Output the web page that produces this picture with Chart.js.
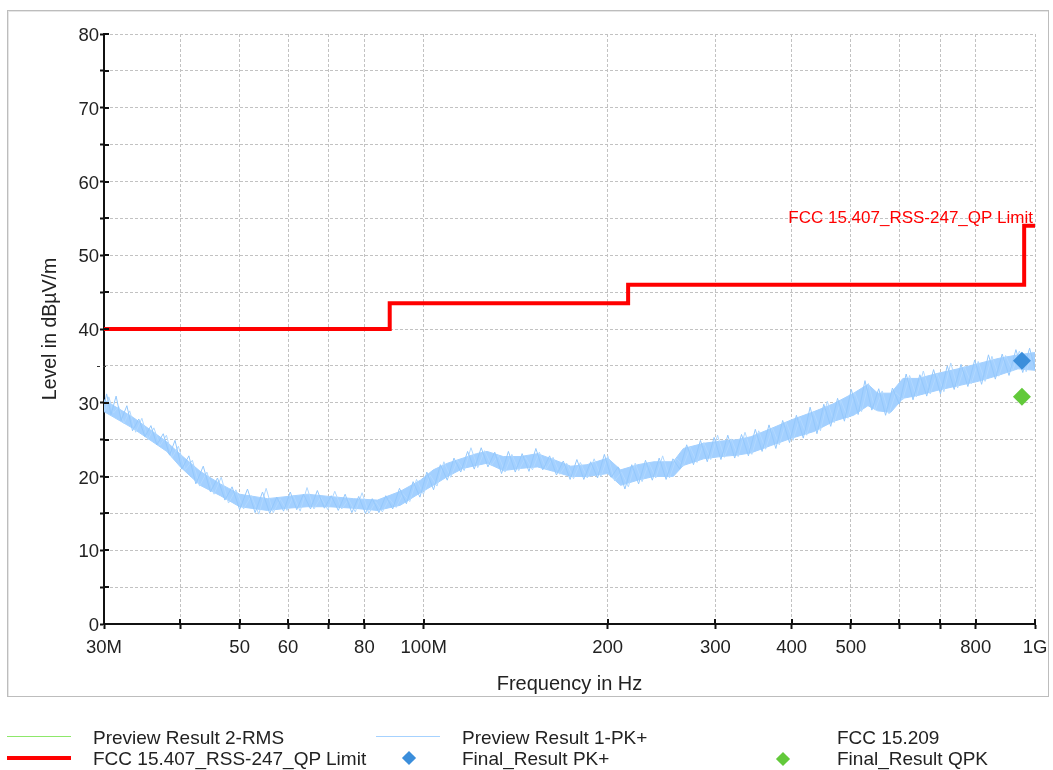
<!DOCTYPE html>
<html>
<head>
<meta charset="utf-8">
<script src="https://cdn.jsdelivr.net/npm/chart.js@4"></script>
<style>
	html, body { margin: 0; padding: 0; background: #fff; }
	#wrap { position: relative; width: 1053px; height: 770px; overflow: hidden; font-family: "Liberation Sans", Arial, sans-serif; color: #222; }
	#frame { position: absolute; left: 7px; top: 10px; width: 1040px; height: 685px; border: 1px solid #bdbdbd; box-shadow: inset 1px 1px 0 #e6e6e6; }
	canvas { position: absolute; left: 0; top: 0; }
	.lg { position: absolute; font-size: 19px; line-height: 21px; white-space: nowrap; }
	.ln { position: absolute; }
	.dm { position: absolute; width: 10px; height: 10px; transform: rotate(45deg); }
</style>
</head>
<body>
<div id="wrap">
	<div id="frame"></div>
	<canvas id="chart" width="1053" height="770"></canvas>

	<div class="ln" style="left:7px;top:736px;width:64px;height:1px;background:#8de86a"></div>
	<div class="lg" style="left:93px;top:727px">Preview Result 2-RMS</div>
	<div class="ln" style="left:7px;top:756px;width:64px;height:4px;background:#ff0000"></div>
	<div class="lg" style="left:93px;top:748px">FCC 15.407_RSS-247_QP Limit</div>

	<div class="ln" style="left:376px;top:736px;width:64px;height:1px;background:#a6d2ff"></div>
	<div class="lg" style="left:462px;top:727px">Preview Result 1-PK+</div>
	<div class="dm" style="left:404px;top:753px;background:#3b8edb"></div>
	<div class="lg" style="left:462px;top:748px">Final_Result PK+</div>

	<div class="lg" style="left:837px;top:727px">FCC 15.209</div>
	<div class="dm" style="left:778px;top:754px;background:#62c93a"></div>
	<div class="lg" style="left:837px;top:748px">Final_Result QPK</div>
</div>
<script>
// axis ticks (MHz)
const xTickValues = [30, 40, 50, 60, 70, 80, 100, 200, 300, 400, 500, 600, 700, 800, 1000];
const xTickLabels = ['30M', '', '50', '60', '', '80', '100M', '200', '300', '400', '500', '', '', '800', '1G'];

// FCC 15.407 / RSS-247 QP limit
const limitFreq = [30, 88, 88, 216, 216, 960, 960, 1000];
const limitLevel = [40, 40, 43.5, 43.5, 46, 46, 54, 54];

// Preview Result 1-PK+ : body of the noisy trace (lower / upper edge)
const bandFreq = [30, 33.5, 38, 40, 43.1, 46.5, 50, 55.5, 60, 64.5, 70, 76.7, 84, 91.6, 98.8, 103.7, 109.4, 116, 122, 127,
	135, 144, 153.5, 163, 174, 185, 200, 210, 224, 238, 256, 266, 287, 306, 326, 343, 370, 400, 435, 469,
	505, 533, 553, 581, 608, 644, 694, 748, 807, 870, 938, 1000];
const bandHi = [30.4, 28.0, 24.7, 23.0, 20.7, 19.0, 17.6, 17.0, 17.3, 17.6, 17.3, 17.0, 16.8, 18.0, 19.5, 20.9, 21.8, 22.5, 23.1, 23.4,
	22.7, 22.7, 23.1, 22.3, 21.4, 21.6, 22.5, 20.9, 21.6, 22.0, 22.0, 23.8, 24.5, 24.8, 25.0, 25.4, 26.5, 27.7, 28.8, 29.9,
	31.3, 32.5, 31.3, 31.3, 33.3, 33.3, 34.0, 34.6, 35.3, 36.0, 36.5, 36.8];
const bandLo = [28.8, 26.5, 23.4, 21.3, 18.8, 17.4, 15.9, 15.4, 15.7, 15.9, 15.9, 15.7, 15.4, 16.1, 17.8, 18.8, 20.0, 21.1, 21.5, 21.8,
	20.8, 21.1, 21.3, 20.7, 20.0, 20.0, 20.4, 18.8, 19.5, 20.0, 20.0, 21.5, 22.4, 22.7, 22.9, 23.2, 24.2, 25.2, 26.1, 27.5,
	28.3, 29.6, 28.9, 28.7, 30.6, 31.0, 31.7, 32.3, 32.9, 33.7, 34.6, 34.4];

// Preview Result 1-PK+ : peaks and dips of the trace
const spikeFreq = [30, 30.3, 30.8, 31.4, 32.0, 32.7, 33.4, 34.2, 35.0, 35.8, 36.6, 37.5, 38.4, 39.2, 40.2, 41.3, 42.4, 43.6, 44.8, 46.0,
	47.3, 48.6, 50.0, 51.5, 53.0, 54.5, 56.0, 57.5, 59.0, 60.5, 62.0, 63.6, 65.3, 67.0, 68.8, 70.6, 72.5, 74.4, 76.3, 78.3,
	80.3, 82.4, 84.5, 86.7, 89.0, 91.3, 93.7, 96.1, 98.6, 101.2, 103.8, 106.5, 109.3, 112.1, 115.0, 118.0, 121.0, 124.2, 127.4, 130.7,
	134.1, 137.6, 141.2, 144.9, 148.7, 152.6, 156.6, 160.7, 164.9, 169.2, 173.6, 178.1, 182.8, 187.6, 192.5, 197.5, 202.7, 208.0, 213.4, 219.0,
	224.7, 230.6, 236.6, 242.8, 249.2, 255.7, 262.4, 269.3, 276.3, 283.6, 291.0, 298.6, 306.4, 314.4, 322.7, 331.1, 339.8, 348.7, 357.8, 367.2,
	376.8, 386.6, 396.7, 407.1, 417.8, 428.7, 439.9, 451.4, 463.3, 475.4, 487.8, 500.6, 513.7, 527.1, 540.9, 555.1, 569.6, 584.5, 599.8, 615.5,
	631.6, 648.1, 665.1, 682.5, 700.4, 718.7, 737.5, 756.8, 776.6, 796.9, 817.8, 839.2, 861.2, 883.7, 906.8, 930.6, 954.9, 979.9, 1000];
const spikeLevel = [29.6, 31.2, 28.4, 30.9, 27.6, 29.6, 26.2, 27.8, 25.4, 26.9, 24.3, 25.8, 22.9, 24.9, 21.0, 22.8, 19.0, 21.4, 17.9, 19.8,
	16.8, 18.6, 15.5, 18.3, 15.1, 17.9, 15.0, 17.2, 15.3, 17.9, 15.5, 17.6, 15.6, 18.1, 15.7, 17.4, 15.4, 17.6, 15.1, 17.3,
	15.0, 17.0, 15.1, 17.4, 15.6, 18.4, 16.3, 19.3, 17.2, 20.6, 18.2, 21.6, 19.5, 22.5, 20.6, 23.4, 21.0, 23.9, 21.3, 23.3,
	20.4, 23.4, 20.6, 23.1, 20.7, 23.8, 20.9, 22.8, 20.2, 22.1, 19.6, 22.3, 19.6, 22.0, 19.8, 23.0, 19.9, 21.3, 18.3, 21.6,
	19.0, 22.2, 19.5, 22.5, 19.6, 22.4, 21.0, 24.3, 21.6, 24.9, 22.0, 25.3, 22.3, 25.6, 22.5, 25.7, 22.8, 26.4, 23.4, 27.0,
	23.8, 27.6, 24.6, 28.3, 25.2, 29.4, 25.8, 29.8, 26.8, 30.6, 27.5, 31.8, 28.4, 33.0, 29.0, 31.9, 28.3, 32.0, 29.8, 33.9,
	30.4, 33.8, 30.9, 34.5, 31.2, 35.0, 31.8, 35.2, 32.2, 35.8, 32.5, 36.5, 33.2, 36.6, 33.7, 37.2, 34.1, 37.4, 34.6];

// Preview Result 1-PK+ : more peaks and dips, between the ones above
const spike2Freq = [30.15, 30.55, 31.1, 31.7, 32.35, 33.05, 33.8, 34.6, 35.4, 36.2,
	37.05, 37.95, 38.8, 39.7, 40.75, 41.85, 43.0, 44.2, 45.4, 46.65,
	47.95, 49.3, 50.75, 52.25, 53.75, 55.25, 56.75, 58.25, 59.75, 61.25,
	62.8, 64.45, 66.15, 67.9, 69.7, 71.55, 73.45, 75.35, 77.3, 79.3,
	81.35, 83.45, 85.6, 87.85, 90.15, 92.5, 94.9, 97.35, 99.9, 102.5,
	105.15, 107.9, 110.7, 113.55, 116.5, 119.5, 122.6, 125.8, 129.05, 132.4,
	135.85, 139.4, 143.05, 146.8, 150.65, 154.6, 158.65, 162.8, 167.05, 171.4,
	175.85, 180.45, 185.2, 190.05, 195.0, 200.1, 205.35, 210.7, 216.2, 221.85,
	227.65, 233.6, 239.7, 246.0, 252.45, 259.05, 265.85, 272.8, 279.95, 287.3,
	294.8, 302.5, 310.4, 318.55, 326.9, 335.45, 344.25, 353.25, 362.5, 372.0,
	381.7, 391.65, 401.9, 412.45, 423.25, 434.3, 445.65, 457.35, 469.35, 481.6,
	494.2, 507.15, 520.4, 534.0, 548.0, 562.35, 577.05, 592.15, 607.65, 623.55,
	639.85, 656.6, 673.8, 691.45, 709.55, 728.1, 747.15, 766.7, 786.75, 807.35,
	828.5, 850.2, 872.45, 895.25, 918.7, 942.75, 967.4, 990];
const spike2Level = [28.9, 30.8, 28.6, 29.5, 27.2, 28.9, 26.0, 27.9, 25.0, 26.6,
	24.2, 25.6, 22.6, 24.1, 20.9, 22.2, 18.7, 20.6, 17.6, 19.9,
	16.4, 18.2, 15.6, 17.4, 14.9, 18.4, 15.1, 17.0, 15.4, 17.4,
	15.3, 18.5, 15.6, 17.2, 15.5, 18.0, 15.6, 16.9, 15.2, 17.8,
	15.0, 16.6, 15.2, 17.0, 15.8, 17.7, 16.6, 19.6, 17.6, 20.2,
	18.7, 22.0, 19.9, 22.2, 20.8, 23.9, 21.2, 23.5, 21.5, 22.9,
	20.6, 23.0, 20.8, 22.6, 20.9, 23.3, 21.0, 22.6, 20.3, 21.8,
	19.7, 21.9, 19.8, 22.4, 20.0, 22.8, 19.4, 20.6, 18.6, 21.8,
	19.3, 21.9, 19.8, 22.8, 19.8, 22.5, 21.4, 24.0, 21.9, 24.6,
	22.3, 25.6, 22.6, 25.1, 22.7, 26.0, 23.0, 26.2, 23.7, 26.6,
	24.3, 27.4, 24.9, 28.0, 25.6, 28.8, 26.2, 30.2, 27.3, 30.3,
	27.9, 31.4, 28.8, 32.6, 29.0, 31.6, 28.5, 31.4, 30.4, 33.7,
	30.8, 34.3, 31.2, 34.0, 31.5, 35.4, 32.0, 34.9, 32.6, 35.6,
	32.9, 36.3, 33.6, 36.4, 34.3, 37.0, 34.2, 36.9];

// final measurements
const pkFinalFreq = [952];
const pkFinalLevel = [35.7];
const qpkFinalFreq = [952];
const qpkFinalLevel = [30.8];

const limitLabel = 'FCC 15.407_RSS-247_QP Limit';
const fontFamily = '"Liberation Sans", Arial, sans-serif';
const markerLevel = 35;

const toPoints = (xs, ys) => xs.map((x, i) => ({x, y: ys[i]}));

// tick marks that cross the axis line (inside part), the 35 dB marker and the limit label
const innerTicks = {
	id: 'innerTicks',
	afterDraw(chart) {
		const {ctx, chartArea, scales: {x, y}} = chart;
		ctx.save();
		ctx.strokeStyle = '#111';
		ctx.lineWidth = 2;
		ctx.beginPath();
		for (const t of y.ticks) {
			if (t.value === markerLevel) continue;
			const py = Math.round(y.getPixelForValue(t.value));
			ctx.moveTo(chartArea.left, py);
			ctx.lineTo(chartArea.left + 5, py);
		}
		for (const t of x.ticks) {
			const px = Math.round(x.getPixelForValue(t.value));
			ctx.moveTo(px, chartArea.bottom);
			ctx.lineTo(px, chartArea.bottom - 5);
		}
		ctx.stroke();

		const my = Math.round(y.getPixelForValue(markerLevel)) + 0.5;
		ctx.lineWidth = 1;
		ctx.strokeStyle = '#333';
		ctx.setLineDash([3, 3]);
		ctx.beginPath();
		ctx.moveTo(chartArea.left - 7, my);
		ctx.lineTo(chartArea.left + 5, my);
		ctx.stroke();
		ctx.setLineDash([]);

		ctx.fillStyle = '#ff0000';
		ctx.font = `17px ${fontFamily}`;
		ctx.textAlign = 'right';
		ctx.textBaseline = 'alphabetic';
		ctx.fillText(limitLabel, x.getPixelForValue(1000) - 2, y.getPixelForValue(54) - 3);
		ctx.restore();
	}
};

const gridColor = '#c2c2c2';

new Chart(document.getElementById('chart').getContext('2d'), {
	type: 'line',
	data: {
		datasets: [
			{
				label: 'Final_Result PK+',
				data: toPoints(pkFinalFreq, pkFinalLevel),
				showLine: false,
				pointStyle: 'rectRot',
				pointRadius: 9,
				backgroundColor: '#3b8edb',
				borderColor: '#3b8edb',
				borderWidth: 0,
			},
			{
				label: 'Final_Result QPK',
				data: toPoints(qpkFinalFreq, qpkFinalLevel),
				showLine: false,
				pointStyle: 'rectRot',
				pointRadius: 9,
				backgroundColor: '#62c93a',
				borderColor: '#62c93a',
				borderWidth: 0,
			},
			{
				label: limitLabel,
				data: toPoints(limitFreq, limitLevel),
				borderColor: '#ff0000',
				borderWidth: 4,
				pointRadius: 0,
				borderJoinStyle: 'miter',
			},
			{
				label: 'Preview Result 1-PK+ spikes',
				data: toPoints(spikeFreq, spikeLevel),
				borderColor: '#94c8fc',
				borderWidth: 1,
				pointRadius: 0,
			},
			{
				label: 'Preview Result 1-PK+ spikes 2',
				data: toPoints(spike2Freq, spike2Level),
				borderColor: '#b0d8ff',
				borderWidth: 1,
				pointRadius: 0,
			},
			{
				label: 'Preview Result 1-PK+',
				data: toPoints(bandFreq, bandHi),
				borderColor: '#a3d0ff',
				backgroundColor: '#a3d0ff',
				borderWidth: 1,
				pointRadius: 0,
				fill: '+1',
			},
			{
				label: 'Preview Result 1-PK+ low',
				data: toPoints(bandFreq, bandLo),
				borderColor: '#a3d0ff',
				borderWidth: 1,
				pointRadius: 0,
			},
		]
	},
	options: {
		responsive: false,
		devicePixelRatio: 1,
		animation: false,
		layout: {autoPadding: false, padding: {left: 0, top: 34, right: 18, bottom: 74}},
		plugins: {
			legend: {display: false},
			tooltip: {enabled: false},
		},
		scales: {
			x: {
				type: 'logarithmic',
				min: 30,
				max: 1000,
				afterBuildTicks: (scale) => {
					scale.ticks = xTickValues.map((value) => ({value}));
				},
				afterFit: (scale) => { scale.height = 72; },
				ticks: {
					autoSkip: false,
					maxRotation: 0,
					padding: 4,
					color: '#222',
					font: {family: fontFamily, size: 18.5, lineHeight: 1.6},
					callback: (value, i) => xTickLabels[i],
				},
				grid: {color: gridColor, tickColor: '#111', tickLength: 5, lineWidth: 1, tickWidth: 2},
				border: {display: true, color: '#111', width: 2, dash: [3, 2]},
				title: {
					display: true,
					text: 'Frequency in Hz',
					color: '#222',
					font: {family: fontFamily, size: 20},
					padding: {top: 0, bottom: 0},
				},
			},
			y: {
				type: 'linear',
				min: 0,
				max: 80,
				afterFit: (scale) => { scale.width = 104; },
				ticks: {
					stepSize: 5,
					padding: 1,
					labelOffset: 2,
					color: '#222',
					font: {family: fontFamily, size: 18.5},
					callback: (value) => value % 10 === 0 ? value : '',
				},
				grid: {
					color: gridColor,
					tickColor: (c) => c.tick && c.tick.value === markerLevel ? 'rgba(0,0,0,0)' : '#111',
					tickLength: 4,
					lineWidth: 1,
					tickWidth: 2,
				},
				border: {display: true, color: '#111', width: 2, dash: [3, 2]},
				title: {
					display: true,
					text: 'Level in dBµV/m',
					color: '#222',
					font: {family: fontFamily, size: 19.5},
					padding: {top: 39, bottom: 0},
				},
			},
		},
	},
	plugins: [innerTicks],
});
</script>
</body>
</html>
